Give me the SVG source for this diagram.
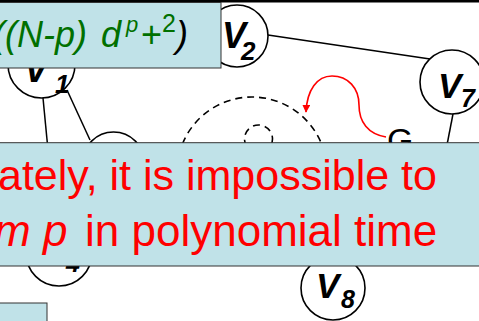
<svg xmlns="http://www.w3.org/2000/svg" width="479" height="321" viewBox="0 0 479 321">
<style>
.node{fill:#fff;stroke:#000;stroke-width:1.6}
.lbl{font-family:"Liberation Sans",Arial,sans-serif;font-weight:bold;font-style:italic;fill:#000}
.edge{stroke:#000;stroke-width:1.5;fill:none}
.dash{stroke:#000;stroke-width:1.6;fill:none;stroke-dasharray:7 5}
.box{fill:#C0E2E8;stroke:#333;stroke-width:1}
.t{font-family:"Liberation Sans",Arial,sans-serif}
</style>
<defs>
<marker id="ah" viewBox="0 0 10 10" refX="9" refY="5" markerWidth="8" markerHeight="8" markerUnits="userSpaceOnUse" orient="auto">
<path d="M0,0 L10,5 L0,10 z" fill="#f00"/>
</marker>
</defs>
<rect width="479" height="321" fill="#fff"/>
<g id="connectors">
<line class="edge" x1="268" y1="35" x2="430" y2="59"/>
<line class="edge" x1="453" y1="114" x2="446" y2="150"/>
<line class="edge" x1="43" y1="98" x2="48" y2="150"/>
<line class="edge" x1="67" y1="90" x2="90" y2="140"/>
<path d="M386,137 C368,134 359,122 359,105 C359,88 348,76 332,76 C317,76 307,90 306,112" fill="none" stroke="#f00" stroke-width="1.6" marker-end="url(#ah)"/>
</g>
<g id="group-big">
<circle class="dash" cx="252" cy="172" r="75"/>
</g>
<g id="group-small">
<circle class="dash" cx="258.5" cy="139" r="14"/>
</g>
<g id="G">
<text class="t" x="387" y="152" font-size="34" fill="#000">G</text>
</g>
<g id="V1">
<circle class="node" cx="41.5" cy="64.5" r="33.5"/>
<text class="lbl" x="24" y="82" font-size="36">V<tspan x="55" y="93" font-size="26">1</tspan></text>
</g>
<g id="V2">
<circle class="node" cx="237" cy="36" r="31"/>
<text class="lbl" x="222" y="48" font-size="36">V<tspan x="241" y="60" font-size="26">2</tspan></text>
</g>
<g id="V7">
<circle class="node" cx="452" cy="82" r="32"/>
<text class="lbl" x="438" y="98" font-size="35">V<tspan x="461" y="107" font-size="25">7</tspan></text>
</g>
<g id="V3">
<circle class="node" cx="113.5" cy="163" r="31"/>
</g>
<g id="V4">
<circle class="node" cx="59" cy="253" r="33"/>
<text class="lbl" x="40" y="262" font-size="35">V<tspan x="66" y="272" font-size="25">4</tspan></text>
</g>
<g id="V8">
<circle class="node" cx="333" cy="288" r="32"/>
<text class="lbl" x="316" y="298" font-size="35">V<tspan x="341" y="308" font-size="25">8</tspan></text>
</g>
<rect x="0" y="0" width="479" height="2.5" fill="#000"/>
<g id="formula-box">
<rect class="box" x="-5" y="2.5" width="226" height="65.5"/>
<text class="t" y="47" font-size="36" font-style="italic" fill="#007000"><tspan x="-7">((N-p)</tspan><tspan x="101">d</tspan><tspan x="126" y="32" font-size="22">p</tspan><tspan x="141" y="47" font-style="normal">+</tspan><tspan x="162" y="32" font-size="25" font-style="normal">2</tspan><tspan x="176" y="47" fill="#000">)</tspan></text>
</g>
<g id="message-box">
<rect class="box" x="-5" y="142.7" width="489" height="123.3" stroke="#555"/>
<text class="t" x="-2" y="190" font-size="43" fill="#f00">ately, it is impossible to</text>
<text class="t" y="246" font-size="44" fill="#f00"><tspan x="-6" font-style="italic">m p</tspan><tspan x="85">in polynomial time</tspan></text>
</g>
<g id="small-box">
<rect class="box" x="-5" y="303" width="52" height="30"/>
</g>
</svg>
